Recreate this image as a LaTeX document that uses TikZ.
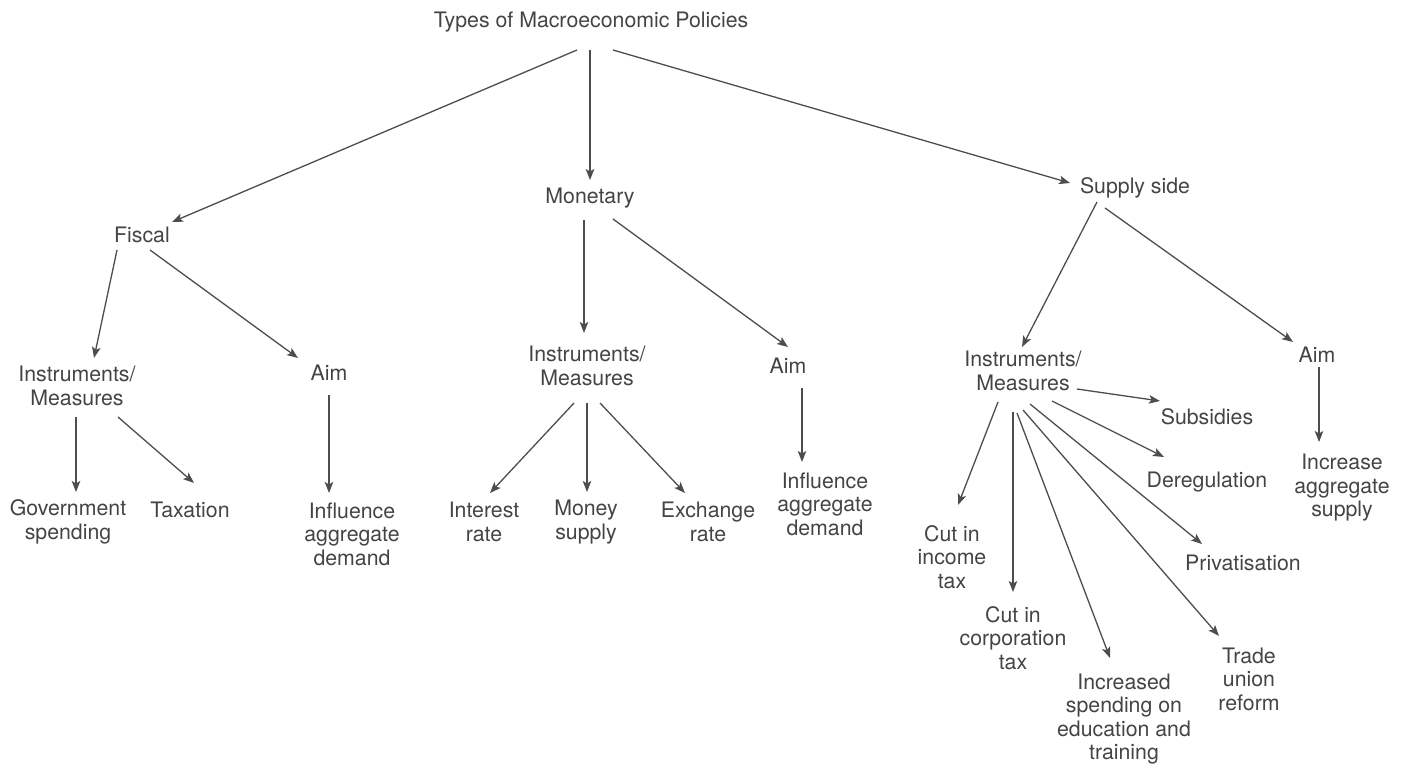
\documentclass[tikz,border=0pt]{standalone}
\usepackage{fontspec}
\setmainfont{TeX Gyre Heros}
\usetikzlibrary{arrows.meta}
\definecolor{txt}{HTML}{444444}
\definecolor{ln}{HTML}{4D4D4D}
\begin{document}
\begin{tikzpicture}[x=1pt,y=-1pt,
  lbl/.style={inner sep=0pt, align=center, text=txt, font=\fontsize{21.3}{23.5}\selectfont},
  arr/.style={draw=ln, line width=1.3pt, -{Stealth[length=11pt,width=8.5pt,inset=2.5pt]}}]
\useasboundingbox (0,0) rectangle (1407,765);
% nodes
\node[lbl] (T) at (591,22) {Types of Macroeconomic Policies};
\node[lbl] (F) at (142,235) {Fiscal};
\node[lbl] (M) at (590,198) {Monetary};
\node[lbl] (S) at (1135,188) {Supply side};
\node[lbl] (FI) at (77,386) {Instruments/\\Measures};
\node[lbl] (FA) at (329,373) {Aim};
\node[lbl] (G) at (68,522) {Government\\spending};
\node[lbl] (X) at (190,510) {Taxation};
\node[lbl] (FD) at (352,534) {Influence\\aggregate\\demand};
\node[lbl] (MI) at (587,366) {Instruments/\\Measures};
\node[lbl] (MA) at (788,366) {Aim};
\node[lbl] (IR) at (484,522) {Interest\\rate};
\node[lbl] (MS) at (586,522) {Money\\supply};
\node[lbl] (ER) at (708,522) {Exchange\\rate};
\node[lbl] (MD) at (825,504) {Influence\\aggregate\\demand};
\node[lbl] (SI) at (1023,371) {Instruments/\\Measures};
\node[lbl] (SA) at (1317,355) {Aim};
\node[lbl] (IA) at (1342,488) {Increase\\aggregate\\supply};
\node[lbl] (Sub) at (1207,417) {Subsidies};
\node[lbl] (Der) at (1207,482) {Deregulation};
\node[lbl] (Pri) at (1243,563) {Privatisation};
\node[lbl] (CI) at (952,557) {Cut in\\income\\tax};
\node[lbl] (CC) at (1013,638) {Cut in\\corporation\\tax};
\node[lbl] (Inc) at (1124,719) {Increased\\spending on\\education and\\training};
\node[lbl] (Tr) at (1249,679) {Trade\\union\\reform};
% connectors
\draw[arr] ([shift={(-14,28)}]T.center) -- ([shift={(30,-13)}]F.center);
\draw[arr] ([shift={(-1,28)}]T.center) -- ([shift={(0,-18)}]M.center);
\draw[arr] ([shift={(22,28)}]T.center) -- ([shift={(-65,-5)}]S.center);
\draw[arr] ([shift={(-25,15)}]F.center) -- ([shift={(17,-28)}]FI.center);
\draw[arr] ([shift={(8,15)}]F.center) -- ([shift={(-31,-15)}]FA.center);
\draw[arr] ([shift={(-1,31)}]FI.center) -- ([shift={(8,-30)}]G.center);
\draw[arr] ([shift={(41,31)}]FI.center) -- ([shift={(4,-27)}]X.center);
\draw[arr] ([shift={(0,22)}]FA.center) -- ([shift={(-23,-41)}]FD.center);
\draw[arr] ([shift={(-6,22)}]M.center) -- ([shift={(-3,-33)}]MI.center);
\draw[arr] ([shift={(23,21)}]M.center) -- ([shift={(0,-19)}]MA.center);
\draw[arr] ([shift={(-13,37)}]MI.center) -- ([shift={(6,-29)}]IR.center);
\draw[arr] ([shift={(0,37)}]MI.center) -- ([shift={(1,-30)}]MS.center);
\draw[arr] ([shift={(13,37)}]MI.center) -- ([shift={(-23,-29)}]ER.center);
\draw[arr] ([shift={(14,22)}]MA.center) -- ([shift={(-23,-42)}]MD.center);
\draw[arr] ([shift={(-38,14)}]S.center) -- ([shift={(-1,-24)}]SI.center);
\draw[arr] ([shift={(-30,20)}]S.center) -- ([shift={(-24,-13)}]SA.center);
\draw[arr] ([shift={(2,12)}]SA.center) -- ([shift={(-23,-46)}]IA.center);
\draw[arr] ([shift={(54,18)}]SI.center) -- ([shift={(-47,-16)}]Sub.center);
\draw[arr] ([shift={(29,30)}]SI.center) -- ([shift={(-43,-25)}]Der.center);
\draw[arr] ([shift={(7,33)}]SI.center) -- ([shift={(-41,-19)}]Pri.center);
\draw[arr] ([shift={(0,39)}]SI.center) -- ([shift={(-30,-43)}]Tr.center);
\draw[arr] ([shift={(-6,42)}]SI.center) -- ([shift={(-14,-61)}]Inc.center);
\draw[arr] ([shift={(-10,41)}]SI.center) -- ([shift={(0,-46)}]CC.center);
\draw[arr] ([shift={(-25,31)}]SI.center) -- ([shift={(6,-52)}]CI.center);
\end{tikzpicture}
\end{document}
